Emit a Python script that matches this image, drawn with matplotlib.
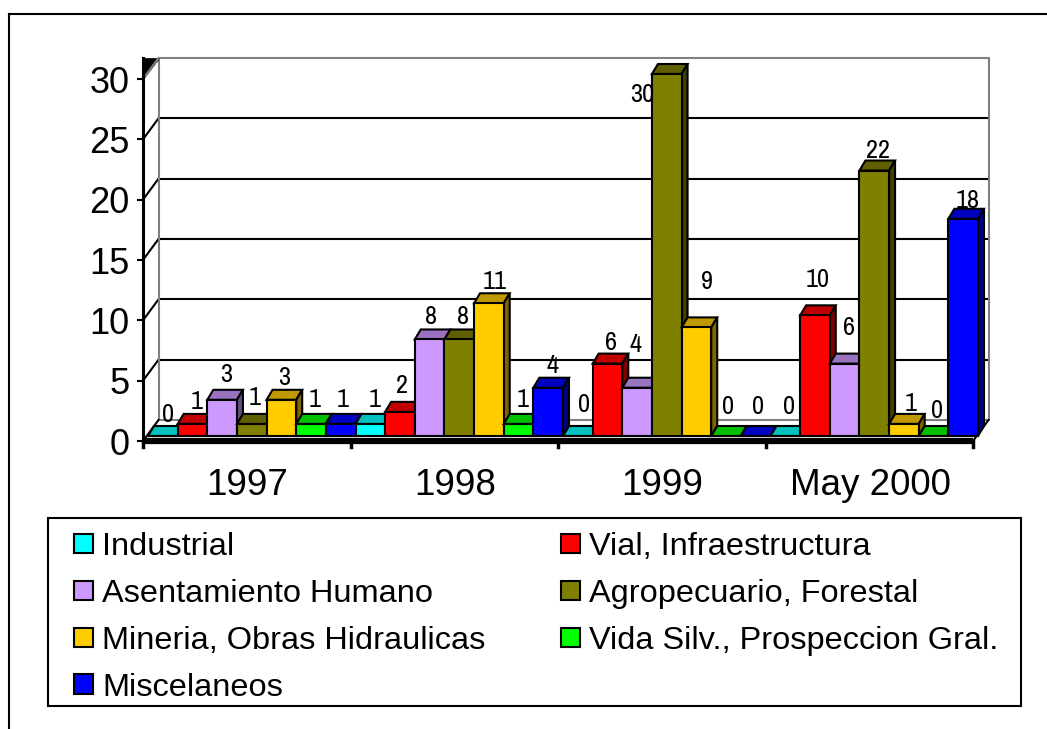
import matplotlib
matplotlib.use('Agg')
import matplotlib.pyplot as plt
from matplotlib.patches import Polygon, Patch, Rectangle
from matplotlib.lines import Line2D

plt.rcParams['font.family'] = ['Liberation Sans', 'DejaVu Sans']

# data
years = ['1997', '1998', '1999', 'May 2000']
series_names = ['Industrial', 'Vial, Infraestructura', 'Asentamiento Humano',
                'Agropecuario, Forestal', 'Mineria, Obras Hidraulicas',
                'Vida Silv., Prospeccion Gral.', 'Miscelaneos']
industrial = [0, 1, 0, 0]
vial = [1, 2, 6, 10]
asentamiento = [3, 8, 4, 6]
agropecuario = [1, 8, 30, 22]
mineria = [3, 11, 9, 1]
vida_silv = [1, 1, 0, 0]
miscelaneos = [1, 4, 0, 18]
yticks = [0, 5, 10, 15, 20, 25, 30]

front = ['#00ffff', '#ff0000', '#cc99ff', '#808000', '#ffcc00', '#00ff00', '#0000ff']
top = ['#00c0c0', '#c00000', '#9973c0', '#606000', '#c09900', '#00c000', '#0000c0']
side = ['#008080', '#800000', '#664c80', '#404000', '#806600', '#008000', '#000080']

# hand placed labels, px from bar centre / px above bar top (by series, by year)
label_dx = [[4, 3, 5, 2], [2.5, 1, 2.5, 1], [3, 0, -3, 3], [1, 2, -26, 2],
            [1.6, 4, 9, 5], [2, 2.5, 1, 2.5], [0, 3, 1, 3]]
label_up = [[22, 24, 32, 29], [22, 26, 21, 36], [25, 23, 43, 36], [26, 23, -20, 20],
            [22, 22, 46, 20], [24, 24, 30, 25], [24, 22, 30, 18]]

W, H = 1047, 729
fig = plt.figure(figsize=(W / 100, H / 100), dpi=100)

# outer frame, only top and left
for xs, ys in [((9, W), (14, 14)), ((9, 9), (14, H))]:
    fig.add_artist(Line2D([x / W for x in xs], [1 - y / H for y in ys], color='black', lw=1.5))

# axes = front plane of the 3d box
x0, x1, y0, y30 = 143, 973, 441, 79
ax = fig.add_axes([x0 / W, 1 - y0 / H, (x1 - x0) / W, (y0 - y30) / H])
ax.set_xlim(0, 4)
ax.set_ylim(0, 30)
ppx = 4 / (x1 - x0)   # data per pixel
ppy = 30 / (y0 - y30)

# box depth and bar depth, in px
wall_dx, wall_dy = 15.5 * ppx, 21 * ppy
bar_dx, bar_dy = 6 * ppx, 10 * ppy
shift_x, shift_y = 5 * ppx, 5 * ppy

ax.axis('off')

# back wall and grid
for v in yticks[1:-1]:
    ax.plot([wall_dx, 4 + wall_dx], [v + wall_dy] * 2, color='black', lw=1.5, clip_on=False, zorder=1)
    ax.plot([0, wall_dx], [v, v + wall_dy], color='black', lw=1.5, clip_on=False, zorder=1)
gray = '#808080'
ax.plot([wall_dx, wall_dx, 4 + wall_dx, 4 + wall_dx, wall_dx],
        [wall_dy, 30 + wall_dy, 30 + wall_dy, wall_dy, wall_dy],
        color=gray, lw=1.5, clip_on=False, zorder=1)
ax.add_patch(Polygon([(0, 30), (0, 30 + wall_dy), (wall_dx, 30 + wall_dy)], closed=True,
                     fc='black', ec='black', lw=0.5, clip_on=False, zorder=1))
ax.plot([0, wall_dx], [30, 30 + wall_dy], color=gray, lw=1.5, clip_on=False, zorder=1)
ax.plot([0, wall_dx], [0, wall_dy], color='black', lw=1.5, clip_on=False, zorder=1)
ax.plot([4, 4 + wall_dx], [0, wall_dy], color='black', lw=1.5, clip_on=False, zorder=1)

# bars, drawn left to right so nearer ones cover the side faces
series = [industrial, vial, asentamiento, agropecuario, mineria, vida_silv, miscelaneos]
bw = 1 / 7
z = 3
for g in range(len(years)):
    for s, vals in enumerate(series):
        v = vals[g]
        left = g + s * bw + shift_x
        right = left + bw
        b = shift_y
        t = v + shift_y
        ekw = dict(ec='black', lw=1.5, clip_on=False, joinstyle='miter')
        ax.add_patch(Polygon([(left, t), (right, t), (right + bar_dx, t + bar_dy), (left + bar_dx, t + bar_dy)],
                             fc=top[s], zorder=z, **ekw))
        ax.add_patch(Polygon([(right, b), (right + bar_dx, b + bar_dy), (right + bar_dx, t + bar_dy), (right, t)],
                             fc=side[s], zorder=z, **ekw))
        ax.bar(left, v, width=bw, bottom=b, align='edge', color=front[s], edgecolor='black',
               linewidth=1.5, clip_on=False, zorder=z + 0.5)
        z += 1

# value labels go on top of everything
for g in range(len(years)):
    for s, vals in enumerate(series):
        cx = g + (s + 0.5) * bw + shift_x
        ax.annotate(str(vals[g]), xy=(cx, vals[g] + shift_y),
                    xytext=((label_dx[s][g] + 1.5) * 0.72, label_up[s][g] * 0.72), textcoords='offset points',
                    ha='center', va='center', fontsize=19, family=['Archivo Narrow', 'Liberation Sans'],
                    zorder=100, annotation_clip=False)

# axis lines, ticks, tick labels
ax.plot([0, 0], [0, 30 + wall_dy], color='black', lw=2.2, clip_on=False, zorder=90)
ax.plot([0, 4], [0, 0], color='black', lw=4.5, clip_on=False, zorder=90, solid_capstyle='butt')
tick_x = 5 * ppx
tick_y = 6 * ppy
for v in yticks:
    ax.plot([-tick_x, 0], [v, v], color='black', lw=1.5, clip_on=False, zorder=90)
    ax.annotate(str(v), xy=(0, v), xytext=(-9.5, -3), textcoords='offset points', ha='right', va='center',
                fontsize=26, annotation_clip=False)
for g in range(len(years) + 1):
    ax.plot([g, g], [0, -tick_y], color='black', lw=2.5, clip_on=False, zorder=90)
for g, name in enumerate(years):
    ax.annotate(name, xy=(g + 0.5, 0), xytext=(0.5, -32), textcoords='offset points', ha='center', va='center',
                fontsize=26.5, annotation_clip=False)

# legend, columns are filled top down so reorder to read row by row
order = [0, 2, 4, 6, 1, 3, 5]
handles = [Patch(facecolor=front[i], edgecolor='black', linewidth=1.5) for i in order]
labels = [series_names[i] for i in order]
fig.add_artist(Rectangle((48 / W, 1 - 706 / H), (1021 - 48) / W, (706 - 518) / H, transform=fig.transFigure,
                         fc='white', ec='black', lw=1.5))
leg = fig.legend(handles, labels, ncol=2, loc='upper left', bbox_to_anchor=(74 / W, 1 - 532 / H),
                 borderaxespad=0, fontsize=23.4, frameon=False,
                 handlelength=0.58, handleheight=0.55, handletextpad=0.28,
                 columnspacing=2.34, labelspacing=0.52, borderpad=0)

fig.savefig('out.png', dpi=100)
